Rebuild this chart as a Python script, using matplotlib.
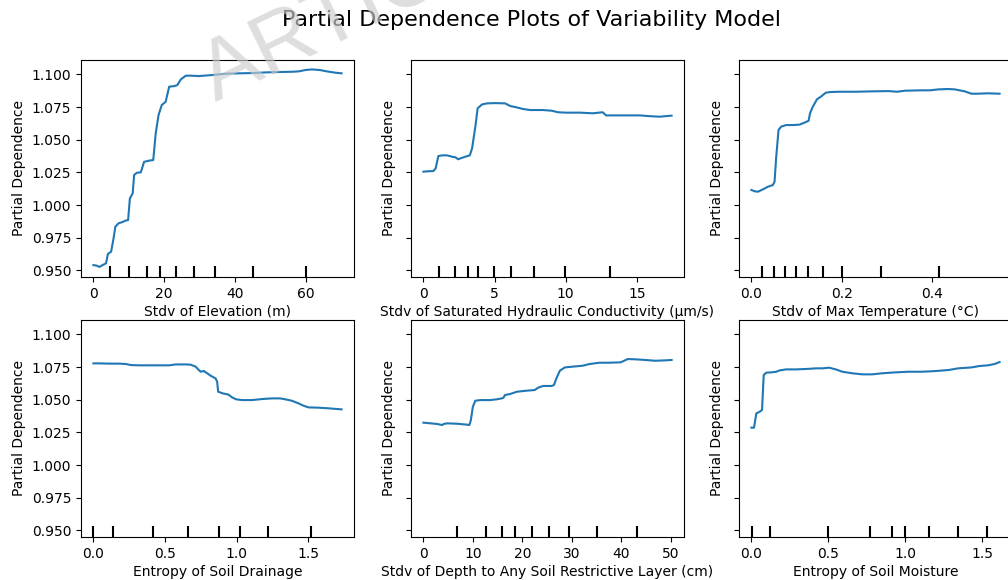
import matplotlib
matplotlib.use("Agg")
import matplotlib.pyplot as plt
import numpy as np

# ---------------- data ----------------
title = "Partial Dependence Plots of Variability Model"
ylabel = "Partial Dependence"

elev_label = "Stdv of Elevation (m)"
elev_x = [0, 0.94, 1.69, 2.6, 3.56, 4.1, 5.0, 5.6, 6.2, 7.1, 8.25, 9.0, 9.8, 10.3, 11.1, 11.5,
          12.3, 13.4, 14.3, 15.75, 16.9, 17.6, 18.4, 19.3, 20.4, 21.4, 22.8, 23.7, 24.7, 26.1,
          27.5, 29.8, 33.6, 37.3, 41.1, 44.8, 48.6, 52.3, 56.1, 58.0, 59.8, 61.7, 64.0, 65.9,
          68.3, 70.1]
elev_y = [0.954, 0.9536, 0.9526, 0.954, 0.9554, 0.9625, 0.9643, 0.973, 0.9834, 0.986, 0.987,
          0.988, 0.9885, 1.005, 1.009, 1.023, 1.0247, 1.025, 1.033, 1.034, 1.0344, 1.0549,
          1.0689, 1.0765, 1.079, 1.0906, 1.091, 1.0918, 1.0962, 1.099, 1.099, 1.0987, 1.0995,
          1.1005, 1.1008, 1.101, 1.1015, 1.1018, 1.102, 1.1023, 1.1033, 1.1038, 1.1033,
          1.1023, 1.1013, 1.1008]
elev_deciles = [4.69, 10.03, 15.09, 18.84, 23.34, 28.40, 34.31, 45.09, 60.0]

ksat_label = "Stdv of Saturated Hydraulic Conductivity (\u03bcm/s)"
ksat_x = [0, 0.28, 0.7, 0.86, 1.05, 1.33, 1.67, 2.0, 2.26, 2.44, 2.6, 2.95, 3.26, 3.42, 3.65,
          3.81, 4.12, 4.47, 5.05, 5.74, 6.1, 6.56, 7.0, 7.5, 8.4, 9.0, 9.47, 10.0, 11.0, 11.9,
          12.6, 12.84, 13.8, 15.2, 15.9, 16.6, 17.0, 17.44]
ksat_y = [1.0255, 1.0258, 1.026, 1.028, 1.0375, 1.038, 1.038, 1.037, 1.0365, 1.035, 1.0357,
          1.037, 1.038, 1.0434, 1.060, 1.074, 1.077, 1.0778, 1.078, 1.0778, 1.0758, 1.0747,
          1.0735, 1.0727, 1.0727, 1.0722, 1.071, 1.0707, 1.0707, 1.0702, 1.071, 1.0686,
          1.0686, 1.0686, 1.068, 1.0676, 1.068, 1.0684]
ksat_deciles = [1.07, 2.21, 3.12, 3.86, 4.95, 6.19, 7.79, 9.98, 13.12]

tmax_label = "Stdv of Max Temperature (\u00b0C)"
tmax_x = [0.0, 0.0073, 0.0146, 0.0256, 0.0366, 0.0476, 0.0512, 0.0549, 0.06, 0.0658, 0.0768,
          0.0914, 0.106, 0.117, 0.1266, 0.1295, 0.135, 0.145, 0.1536, 0.1646, 0.1756, 0.194,
          0.2304, 0.267, 0.3036, 0.3219, 0.34, 0.3767, 0.395, 0.4133, 0.4353, 0.45, 0.4719,
          0.4865, 0.501, 0.523, 0.549]
tmax_y = [1.0115, 1.0105, 1.0102, 1.012, 1.014, 1.0153, 1.0179, 1.037, 1.0574, 1.06, 1.0612,
          1.0612, 1.0615, 1.063, 1.0645, 1.070, 1.0747, 1.0809, 1.0829, 1.086, 1.0865, 1.0867,
          1.0867, 1.087, 1.0872, 1.0867, 1.0875, 1.0878, 1.0878, 1.0885, 1.0888, 1.0885,
          1.087, 1.0852, 1.0852, 1.0855, 1.0852]
tmax_deciles = [0.0234, 0.0497, 0.0746, 0.0988, 0.1244, 0.1573, 0.2004, 0.2868, 0.414]

drain_label = "Entropy of Soil Drainage"
drain_x = [0, 0.042, 0.111, 0.18, 0.227, 0.262, 0.319, 0.389, 0.458, 0.528, 0.574, 0.644,
           0.678, 0.713, 0.731, 0.748, 0.77, 0.794, 0.817, 0.852, 0.863, 0.87, 0.903, 0.94,
           0.967, 0.995, 1.037, 1.106, 1.176, 1.245, 1.303, 1.338, 1.384, 1.43, 1.465, 1.5,
           1.57, 1.64, 1.731]
drain_y = [1.0778, 1.0778, 1.0776, 1.0776, 1.0773, 1.0765, 1.0763, 1.0763, 1.0763, 1.0763,
           1.077, 1.077, 1.0768, 1.0753, 1.0732, 1.0714, 1.072, 1.0702, 1.0684, 1.0663,
           1.0638, 1.0561, 1.0548, 1.054, 1.0518, 1.0503, 1.0497, 1.0497, 1.0505, 1.051,
           1.051, 1.0503, 1.0492, 1.0472, 1.0454, 1.0441, 1.0439, 1.0434, 1.0426]
drain_deciles = [0.0, 0.139, 0.414, 0.66, 0.875, 1.019, 1.22, 1.516]

depth_label = "Stdv of Depth to Any Soil Restrictive Layer (cm)"
depth_x = [0, 1.47, 2.8, 3.8, 4.1, 4.8, 6.8, 8.8, 9.3, 9.6, 10.0, 10.5, 11.5, 13.5, 14.85,
           15.85, 16.2, 16.5, 17.5, 18.9, 20.9, 22.5, 23.2, 24.2, 25.9, 26.4, 26.9, 27.6, 28.6,
           30.2, 32.2, 33.6, 34.6, 35.6, 37.6, 39.9, 40.6, 41.3, 42.9, 44.9, 46.9, 48.9, 50.2]
depth_y = [1.0324, 1.0319, 1.0314, 1.0306, 1.0314, 1.0319, 1.0316, 1.0309, 1.0306, 1.0344,
           1.0446, 1.0492, 1.0497, 1.0497, 1.0503, 1.051, 1.0515, 1.0536, 1.0543, 1.0561,
           1.0569, 1.0574, 1.0592, 1.0605, 1.0605, 1.0612, 1.0663, 1.0722, 1.0747, 1.0753,
           1.076, 1.0773, 1.0778, 1.0783, 1.0783, 1.0786, 1.0798, 1.0811, 1.0809, 1.0804,
           1.0798, 1.0801, 1.0804]
depth_deciles = [6.82, 12.64, 15.85, 18.46, 22.0, 25.5, 29.4, 35.1, 43.2]

moist_label = "Entropy of Soil Moisture"
moist_x = [0, 0.017, 0.032, 0.054, 0.069, 0.08, 0.097, 0.129, 0.161, 0.183, 0.226, 0.29, 0.355,
           0.419, 0.462, 0.505, 0.548, 0.591, 0.656, 0.72, 0.785, 0.849, 0.935, 1.02, 1.108,
           1.194, 1.28, 1.344, 1.43, 1.484, 1.538, 1.58, 1.613]
moist_y = [1.0286, 1.0286, 1.0395, 1.0408, 1.0421, 1.0689, 1.0707, 1.0709, 1.0714, 1.0724,
           1.0732, 1.0732, 1.0735, 1.074, 1.074, 1.0745, 1.0732, 1.0714, 1.0702, 1.0694,
           1.0694, 1.0702, 1.0709, 1.0714, 1.0714, 1.0719, 1.0727, 1.074, 1.0747, 1.0758,
           1.0763, 1.0773, 1.0788]
moist_deciles = [0.0043, 0.118, 0.501, 0.77, 0.912, 0.996, 1.155, 1.34, 1.531]

yticks = [0.950, 0.975, 1.000, 1.025, 1.050, 1.075, 1.100]

panels = [
    (elev_x, elev_y, elev_deciles, elev_label),
    (ksat_x, ksat_y, ksat_deciles, ksat_label),
    (tmax_x, tmax_y, tmax_deciles, tmax_label),
    (drain_x, drain_y, drain_deciles, drain_label),
    (depth_x, depth_y, depth_deciles, depth_label),
    (moist_x, moist_y, moist_deciles, moist_label),
]

# ---------------- figure ----------------
W, H = 1008, 580
fig = plt.figure(figsize=(W / 100, H / 100), dpi=100)
plt.rcParams['font.family'] = ['DejaVu Sans']

lefts = [81, 411, 739]
tops = [60, 320]
aw, ah = 273, 217

axes = []
for i, (xs, ys, dec, lab) in enumerate(panels):
    r, c = divmod(i, 3)
    ax = fig.add_axes([lefts[c] / W, 1 - (tops[r] + ah) / H, aw / W, ah / H])
    ax.plot(xs, ys, color='#1f77b4', lw=1.5)
    trans = matplotlib.transforms.blended_transform_factory(ax.transData, ax.transAxes)
    ax.vlines(dec, 0, 0.05, transform=trans, color='black', lw=1.5)
    ax.set_ylim(0.9449, 1.1110)
    ax.set_yticks(yticks)
    if c == 0:
        ax.set_yticklabels([f"{v:.3f}" for v in yticks])
    else:
        ax.set_yticklabels([])
    ax.set_ylabel(ylabel, fontsize=10)
    ax.set_xlabel(lab, fontsize=10, labelpad=3)
    ax.tick_params(labelsize=10)
    axes.append(ax)

fig.text(532 / W, 1 - 20 / H, title, ha='center', va='center', fontsize=16)

# watermark
fig.text(188 / W, 1 - 100 / H, "ARTICLE", rotation=26, fontsize=62, color='#cdcdcd',
         family=['Liberation Sans', 'DejaVu Sans'],
         alpha=0.65, ha='left', va='baseline', zorder=100)

fig.savefig("out.png", dpi=100)
